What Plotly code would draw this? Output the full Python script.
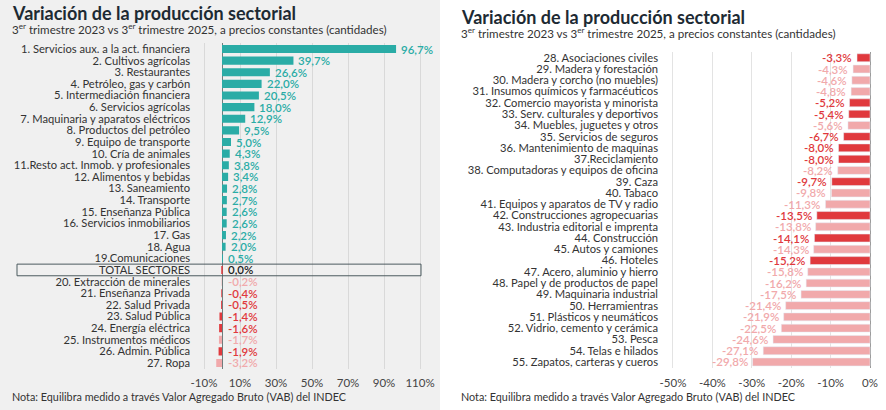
import plotly.graph_objects as go

# ---------------- DATA ----------------
left_labels = [
    "1. Servicios aux. a la act. financiera", "2. Cultivos agrícolas", "3. Restaurantes",
    "4. Petróleo, gas y carbón", "5. Intermediación financiera", "6. Servicios agrícolas",
    "7. Maquinaria y aparatos eléctricos", "8. Productos del petróleo", "9. Equipo de transporte",
    "10. Cría de animales", "11.Resto act. Inmob. y profesionales", "12. Alimentos y bebidas",
    "13. Saneamiento", "14. Transporte", "15. Enseñanza Pública", "16. Servicios inmobiliarios",
    "17. Gas", "18. Agua", "19.Comunicaciones", "TOTAL SECTORES", "20. Extracción de minerales",
    "21. Enseñanza Privada", "22. Salud Privada", "23. Salud Pública", "24. Energía eléctrica",
    "25. Instrumentos médicos", "26. Admin. Pública", "27. Ropa",
]
left_values = [96.7, 39.7, 26.6, 22.0, 20.5, 18.0, 12.9, 9.5, 5.0, 4.3, 3.8, 3.4, 2.8, 2.7,
               2.6, 2.6, 2.2, 2.0, 0.5, 0.0, -0.2, -0.4, -0.5, -1.4, -1.6, -1.7, -1.9, -3.2]
left_groups = ["pos"] * 19 + ["total", "light", "dark", "dark", "dark", "dark", "light", "dark", "light"]

right_labels = [
    "28. Asociaciones civiles", "29. Madera y forestación", "30. Madera y corcho (no muebles)",
    "31. Insumos químicos y farmacéuticos", "32. Comercio mayorista y minorista",
    "33. Serv. culturales y deportivos", "34. Muebles, juguetes y otros", "35. Servicios de seguros",
    "36. Mantenimiento de maquinas", "37.Reciclamiento", "38. Computadoras y equipos de oficina",
    "39. Caza", "40. Tabaco", "41. Equipos y aparatos de TV y radio",
    "42. Construcciones agropecuarias", "43. Industria editorial e imprenta", "44. Construcción",
    "45. Autos y camiones", "46. Hoteles", "47. Acero, aluminio y hierro",
    "48. Papel y de productos de papel", "49. Maquinaria industrial", "50. Herramientras",
    "51. Plásticos y neumáticos", "52. Vidrio, cemento y cerámica", "53. Pesca",
    "54. Telas e hilados", "55. Zapatos, carteras y cueros",
]
right_values = [-3.3, -4.3, -4.6, -4.8, -5.2, -5.4, -5.6, -6.7, -8.0, -8.0, -8.2, -9.7, -9.8,
                -11.3, -13.5, -13.8, -14.1, -14.3, -15.2, -15.8, -16.2, -17.5, -21.4, -21.9,
                -22.5, -24.6, -27.1, -29.8]
right_groups = ["dark", "light", "light", "light", "dark", "dark", "light", "dark", "dark", "dark",
                "light", "dark", "light", "light", "dark", "light", "dark", "light", "dark"] + ["light"] * 9

left_ticks = [-10, 10, 30, 50, 70, 90, 110]
right_ticks = [-50, -40, -30, -20, -10, 0]

title = "Variación de la producción sectorial"
subtitle = "3<sup>er</sup> trimestre 2023 vs 3<sup>er</sup> trimestre 2025, a precios constantes (cantidades)"
note = "Nota: Equilibra medido a través Valor Agregado Bruto (VAB) del INDEC"

# ---------------- STYLE ----------------
FONT = "Lato"
W, H = 886, 410
bar_colors = {"pos": "#2aaca6", "dark": "#e0393d", "light": "#f1a9ab", "total": "#e0393d"}
text_colors = {"pos": "#2aaca6", "dark": "#e0393d", "light": "#f1a9ab", "total": "#222222"}
LABEL_COLOR = "#333333"
DARK = "#1d2a33"
VAL_SIZE = 11.5


def fmt(v):
    return f"{v:.1f}%".replace(".", ",")


fig = go.Figure()

fig.add_trace(go.Bar(
    x=left_values, y=left_labels, orientation="h",
    marker=dict(color=[bar_colors[g] for g in left_groups],
                line=dict(color=[bar_colors[g] for g in left_groups],
                          width=[1.5 if g == "total" else 0 for g in left_groups])),
    xaxis="x", yaxis="y", showlegend=False, hoverinfo="skip",
))
fig.add_trace(go.Bar(
    x=right_values, y=right_labels, orientation="h",
    marker=dict(color=[bar_colors[g] for g in right_groups]),
    xaxis="x2", yaxis="y2", showlegend=False, hoverinfo="skip",
))

# Geometry (pixels -> paper)
lx0, lx1 = 202.2, 423.6
ly_top, ly_bot = 43.2, 368.8
rx0, rx1 = 669.0, 872.0
ry_top, ry_bot = 52.1, 367.6

axis_font = dict(family=FONT, size=11.5, color="#444444")
cat_font = dict(family=FONT, size=11.2, color=LABEL_COLOR)

fig.update_layout(
    width=W, height=H,
    margin=dict(l=0, r=0, t=0, b=0, pad=0, autoexpand=False),
    paper_bgcolor="white", plot_bgcolor="rgba(0,0,0,0)",
    bargap=0.3,
    xaxis=dict(domain=[lx0 / W, lx1 / W], range=[-11, 112], tickvals=left_ticks,
               ticktext=[f"{t}%" for t in left_ticks], showgrid=True, gridcolor="#d9d9d9",
               gridwidth=1, zeroline=True, zerolinecolor="#6f7d7d", zerolinewidth=1,
               tickfont=axis_font, ticks="", ticklabelstandoff=6, fixedrange=True,
               automargin=False, anchor="y"),
    yaxis=dict(domain=[(H - ly_bot) / H, (H - ly_top) / H], anchor="x",
               categoryorder="array", categoryarray=left_labels,
               tickmode="array", tickvals=left_labels,
               range=[len(left_labels) - 0.5, -0.5], tickfont=cat_font,
               ticks="", showgrid=False, ticklabelstandoff=11, fixedrange=True,
               automargin=False),
    xaxis2=dict(domain=[rx0 / W, rx1 / W], range=[-51, 0.5], tickvals=right_ticks,
                ticktext=[f"{t}%" for t in right_ticks], showgrid=True, gridcolor="#e3e3e3",
                gridwidth=1, zeroline=True, zerolinecolor="#9a9a9a", zerolinewidth=1,
                tickfont=axis_font, ticks="", ticklabelstandoff=7, anchor="y2", fixedrange=True,
                automargin=False),
    yaxis2=dict(domain=[(H - ry_bot) / H, (H - ry_top) / H], anchor="x2",
                categoryorder="array", categoryarray=right_labels,
                tickmode="array", tickvals=right_labels,
                range=[len(right_labels) - 0.5, -0.5], tickfont=cat_font,
                ticks="", showgrid=False, ticklabelstandoff=10, fixedrange=True,
                automargin=False),
)

shapes = [
    dict(type="rect", xref="paper", yref="paper", x0=0, x1=440 / W, y0=0, y1=1,
         fillcolor="#f0f0f0", line=dict(width=0), layer="below"),
    dict(type="rect", xref="paper", yref="y", x0=17 / W, x1=421 / W,
         y0=left_labels.index("TOTAL SECTORES") - 0.5, y1=left_labels.index("TOTAL SECTORES") + 0.5,
         fillcolor="rgba(0,0,0,0)", line=dict(color="#4b5a5e", width=1), layer="above"),
]
fig.update_layout(shapes=shapes)

annos = []
for lab, v, g in zip(left_labels, left_values, left_groups):
    annos.append(dict(text=fmt(v), x=max(v, 0), y=lab, xref="x", yref="y",
                      xanchor="left", yanchor="middle", showarrow=False,
                      xshift=3 if v > 0 else 4,
                      font=dict(family=FONT, size=VAL_SIZE, color=text_colors[g], weight=600)))
for lab, v, g in zip(right_labels, right_values, right_groups):
    annos.append(dict(text=fmt(v), x=v, y=lab, xref="x2", yref="y2",
                      xanchor="right", yanchor="middle", showarrow=False, xshift=-3,
                      font=dict(family=FONT, size=VAL_SIZE, color=text_colors[g], weight=600)))

for x0, ty, sy in [(10, 13.0, 28.5), (459, 17.0, 33)]:
    annos.append(dict(text=f"<b>{title}</b>", x=x0 / W, y=1 - ty / H, xref="paper", yref="paper",
                      xanchor="left", yanchor="middle", showarrow=False,
                      font=dict(family=FONT, size=18, color=DARK)))
    annos.append(dict(text=subtitle, x=x0 / W, y=1 - sy / H, xref="paper", yref="paper",
                      xanchor="left", yanchor="middle", showarrow=False,
                      font=dict(family=FONT, size=11.6, color="#333333")))
    annos.append(dict(text=note, x=x0 / W, y=1 - 396.5 / H, xref="paper", yref="paper",
                      xanchor="left", yanchor="middle", showarrow=False,
                      font=dict(family=FONT, size=10.8, color="#333333")))
fig.update_layout(annotations=annos)

fig.write_html("out.html", config={"displayModeBar": False, "staticPlot": True},
               post_script="document.body.style.margin='0';document.body.style.padding='0';")
